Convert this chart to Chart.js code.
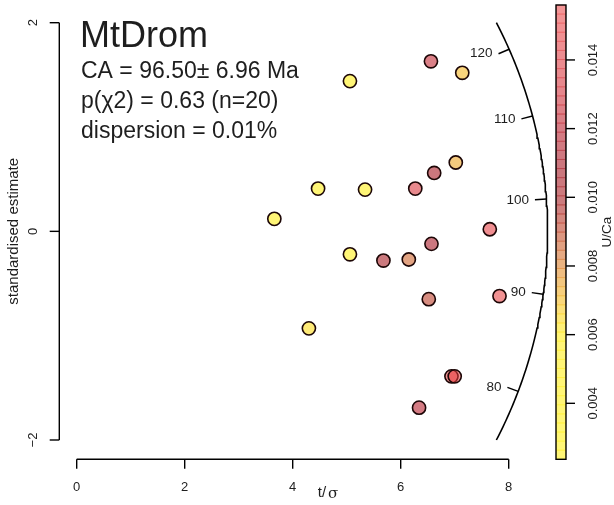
<!DOCTYPE html>
<html><head><meta charset="utf-8">
<script src="https://cdn.jsdelivr.net/npm/chart.js@4.4.1/dist/chart.umd.min.js"></script>
<style>html,body{margin:0;padding:0;background:#fff;overflow:hidden}</style>
</head><body>
<canvas id="c" width="614" height="505"></canvas>
<script>
// ---------- data ----------
const sampleName = 'MtDrom';
const infoLines = ['CA = 96.50\u00b1 6.96 Ma', 'p(\u03c72) = 0.63 (n=20)', 'dispersion = 0.01%'];
const centralAge = 96.5;
const tOverSigma  = [6.56, 7.14, 5.06, 7.02, 6.62, 4.47, 5.34, 6.27, 3.66, 7.65, 6.57, 5.06, 5.68, 6.15, 6.52, 7.83, 4.30, 6.94, 7.00, 6.34];
const stdEstimate = [1.63, 1.52, 1.44, 0.66, 0.56, 0.41, 0.40, 0.41, 0.12, 0.02, -0.12, -0.22, -0.28, -0.27, -0.65, -0.62, -0.93, -1.39, -1.39, -1.69];
const uCa         = [0.0124, 0.0071, 0.0045, 0.0074, 0.0106, 0.0040, 0.0042, 0.0135, 0.0045, 0.0145, 0.0110, 0.0043, 0.0104, 0.0085, 0.0092, 0.0148, 0.0064, 0.0152, 0.0152, 0.0118];
const xTicks = [0, 2, 4, 6, 8];
const yTicks = [-2, 0, 2];
const ageTicks = [80, 90, 100, 110, 120];
const cbTicks = [0.004, 0.006, 0.008, 0.010, 0.012, 0.014];
const cbMin = 0.00237, cbMax = 0.0156;
const cbStopVals = [0.0024, 0.0060, 0.0066, 0.0071, 0.0077, 0.0083, 0.0090, 0.0098, 0.0108, 0.0120, 0.0132, 0.0145, 0.0156];
const cbStopCols = ['#fff676','#fff476','#fde478','#f9d47c','#f0c080','#e6aa82','#da9180','#cd7d7e','#ca767d','#d67c84','#e6878c','#f08e91','#f49696'];

// ---------- helpers ----------
const ALPHA = 0.55;
function hex2rgb(h){return [parseInt(h.slice(1,3),16),parseInt(h.slice(3,5),16),parseInt(h.slice(5,7),16)];}
function obsColour(v){
  if (v <= cbStopVals[0]) return hex2rgb(cbStopCols[0]);
  for (let i=1;i<cbStopVals.length;i++){
    if (v <= cbStopVals[i]){
      const f=(v-cbStopVals[i-1])/(cbStopVals[i]-cbStopVals[i-1]);
      const a=hex2rgb(cbStopCols[i-1]), b=hex2rgb(cbStopCols[i]);
      return a.map((c,k)=>c+(b[k]-c)*f);
    }
  }
  return hex2rgb(cbStopCols[cbStopCols.length-1]);
}
function fillColour(v, alpha){
  const al = alpha || ALPHA;
  const o=obsColour(v);
  const base=o.map(c=>Math.max(0,Math.min(255,Math.round(255-(255-c)/ALPHA))));
  return `rgba(${base[0]},${base[1]},${base[2]},${al})`;
}
// arc geometry (semi-axes in data units)
const rx = 8.72, ry = 4.41;
function arcPoint(age){
  const s=Math.log(age/centralAge);
  const x=1/Math.sqrt(1/(rx*rx)+s*s/(ry*ry));
  return {x:x, y:s*x};
}
const arcData=[];
const phiMax=Math.asin(2/ry);
for(let i=0;i<=120;i++){const p=-phiMax+2*phiMax*i/120; arcData.push({x:rx*Math.cos(p), y:ry*Math.sin(p)});}

const points = tOverSigma.map((x,i)=>({x:x, y:stdEstimate[i]}));
const pointFills = uCa.map(v=>fillColour(v));

const FONT = '"Liberation Sans", Arial, sans-serif';
const INK = '#1e1e1e';

const decor = {
  id:'decor',
  afterDraw(chart){
    const ctx=chart.ctx, xs=chart.scales.x, ys=chart.scales.y;
    ctx.save();
    ctx.strokeStyle='#000'; ctx.fillStyle=INK; ctx.lineWidth=1.4; ctx.lineCap='butt';
    function line(a,b,c,d){ctx.beginPath();ctx.moveTo(a,b);ctx.lineTo(c,d);ctx.stroke();}
    // x axis
    const yAx=459.3;
    line(xs.getPixelForValue(xTicks[0]),yAx,xs.getPixelForValue(xTicks[xTicks.length-1]),yAx);
    ctx.font='13px '+FONT; ctx.textAlign='center'; ctx.textBaseline='middle';
    xTicks.forEach(t=>{const px=xs.getPixelForValue(t); line(px,yAx,px,yAx+9.5); ctx.fillText(String(t),px,487);});
    // y axis
    const xAx=59.3;
    line(xAx,ys.getPixelForValue(yTicks[0]),xAx,ys.getPixelForValue(yTicks[yTicks.length-1]));
    yTicks.forEach(t=>{const py=ys.getPixelForValue(t); line(xAx,py,xAx-9.6,py);
      ctx.save(); ctx.translate(33,py); ctx.rotate(-Math.PI/2); ctx.fillText(t<0?'\u2212'+Math.abs(t):String(t),0,0); ctx.restore();});
    // axis titles
    ctx.font='15px '+FONT;
    ctx.fillText('t/',322,493);
    ctx.font='15px "DejaVu Serif", "Liberation Serif", serif';
    ctx.fillText('\u03c3',333,494);
    ctx.save(); ctx.translate(14,231.3); ctx.rotate(-Math.PI/2); ctx.font='15px '+FONT; ctx.fillText('standardised estimate',0,0); ctx.restore();
    // arc ticks
    const ox=xs.getPixelForValue(0), oy=ys.getPixelForValue(0);
    ctx.font='13.5px '+FONT; ctx.textAlign='right'; ctx.textBaseline='middle';
    ageTicks.forEach(a=>{
      const p=arcPoint(a); const px=xs.getPixelForValue(p.x), py=ys.getPixelForValue(p.y);
      let dx=ox-px, dy=oy-py; const L=Math.hypot(dx,dy); dx/=L; dy/=L;
      const ix=px+dx*11.5, iy=py+dy*11.5;
      line(px,py,ix,iy);
      ctx.fillText(String(a),ix-6,iy);
    });
    // colour bar
    const bx0=556, bx1=566, bTop=5, bBot=459.3;
    const vToY=v=>bTop+(cbMax-v)/(cbMax-cbMin)*(bBot-bTop);
    const nb=50;
    for(let i=0;i<nb;i++){
      const v0=cbMin+(cbMax-cbMin)*i/nb, v1=cbMin+(cbMax-cbMin)*(i+1)/nb;
      const y0=vToY(v1), y1=vToY(v0);
      ctx.fillStyle=fillColour((v0+v1)/2); ctx.fillRect(bx0,y0,bx1-bx0,y1-y0);
      ctx.strokeStyle=fillColour((v0+v1)/2,0.3); ctx.lineWidth=1; ctx.strokeRect(bx0+0.5,y0,bx1-bx0-1,y1-y0);
    }
    ctx.strokeStyle='#000'; ctx.lineWidth=1.4; ctx.strokeRect(bx0,bTop,bx1-bx0,bBot-bTop);
    ctx.fillStyle=INK; ctx.font='13px '+FONT; ctx.textAlign='center'; ctx.textBaseline='middle';
    cbTicks.forEach(v=>{const py=vToY(v); line(bx1,py,bx1+9,py);
      ctx.save(); ctx.translate(593,py); ctx.rotate(-Math.PI/2); ctx.fillText(v.toFixed(3),0,0); ctx.restore();});
    ctx.save(); ctx.translate(607,232); ctx.rotate(-Math.PI/2); ctx.font='13.5px '+FONT; ctx.fillText('U/Ca',0,0); ctx.restore();
    // title block
    ctx.textAlign='left'; ctx.textBaseline='alphabetic'; ctx.fillStyle=INK;
    ctx.font='36px '+FONT; ctx.fillText(sampleName,80,47);
    ctx.font='23px '+FONT;
    infoLines.forEach((s,i)=>ctx.fillText(s,81,78+30*i));
    ctx.restore();
  }
};

new Chart(document.getElementById('c'), {
  type:'scatter',
  data:{datasets:[
    {data:arcData, showLine:true, borderColor:'#000', borderWidth:1.6, pointRadius:0, clip:false, order:2, tension:0},
    {data:points, backgroundColor:pointFills, borderColor:'#1c0606', borderWidth:1.6, pointRadius:6.6, clip:false, order:1}
  ]},
  options:{
    responsive:false, animation:false, devicePixelRatio:1,
    layout:{padding:{left:76.7, right:105.3, top:22.7, bottom:65}},
    plugins:{legend:{display:false}, tooltip:{enabled:false}},
    scales:{
      x:{type:'linear', min:0, max:8, display:false},
      y:{type:'linear', min:-2, max:2, display:false}
    }
  },
  plugins:[decor]
});
</script>
</body></html>
